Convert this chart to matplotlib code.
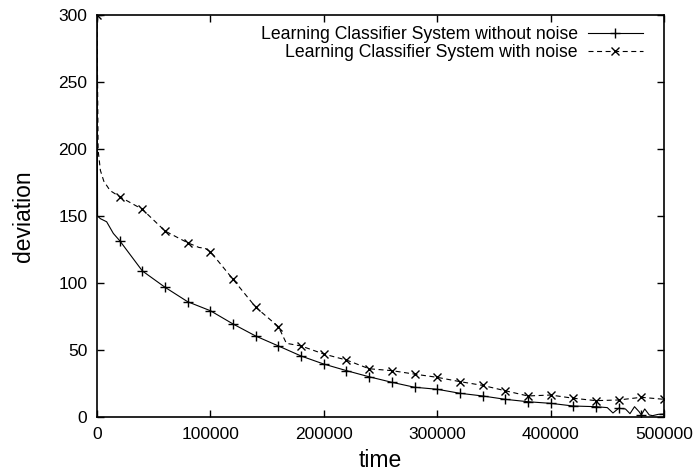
import matplotlib
matplotlib.use('Agg')
import matplotlib.pyplot as plt

plt.rcParams['font.family'] = ['Liberation Sans', 'DejaVu Sans']

# Learning Classifier System without noise (solid, '+' every 20000)
t_clean = [0, 500, 3000, 8500, 14400, 20000, 40000, 60000, 80000, 100000,
           120000, 140000, 160000, 180000, 200000, 220000, 240000, 260000,
           280000, 300000, 320000, 340000, 360000, 380000, 400000, 420000,
           440000, 450000, 455000, 460000, 466000, 470000, 474000, 478000,
           480000, 483000, 487000, 490000, 495000, 500000]
dev_clean = [300, 150, 148, 145.7, 137, 131.6, 109, 96.8, 86, 79.3,
             69.4, 60.4, 53, 45.5, 39.5, 34.6, 30, 25.9,
             22.2, 20.7, 17.7, 15.7, 13.2, 11.4, 10.2, 8.2,
             7.7, 7.0, 3.0, 6.5, 6.0, 2.5, 7.7, 4.0,
             1.5, 6.0, 1.5, 1.0, 2.0, 2.2]
clean_marks = [0] + list(range(5, 27)) + [29, 34, 39]

# Learning Classifier System with noise (dashed, 'x' every 20000)
t_noise = [0, 1000, 3000, 6000, 11500, 20000, 40000, 60000, 80000, 90000,
           95000, 100000, 120000, 140000, 160000, 167000, 180000, 200000,
           220000, 240000, 260000, 280000, 300000, 320000, 340000, 360000,
           380000, 400000, 420000, 440000, 460000, 480000, 500000]
dev_noise = [300, 199, 184, 176, 169, 164.4, 155, 138.8, 130, 126.5,
             126, 123.4, 102.7, 81.9, 67.4, 55, 53, 47,
             42.5, 36, 34.6, 32, 29.6, 26.4, 23.6, 19.6,
             15.7, 16.4, 14, 12.2, 12.7, 14.7, 13.2]
noise_marks = [0] + list(range(5, 9)) + list(range(11, 15)) + list(range(16, 33))

fig = plt.figure(figsize=(6.95, 4.74), dpi=100)
ax = fig.add_axes([97 / 695, 57 / 474, 567 / 695, 402 / 474])

ax.plot(t_clean, dev_clean, color='black', linewidth=0.8, marker='+',
        markersize=7, markeredgewidth=1.0, markevery=clean_marks,
        label='Learning Classifier System without noise')
ax.plot(t_noise, dev_noise, color='black', linewidth=0.8, marker='x',
        markersize=6, markeredgewidth=1.0, markevery=noise_marks,
        dashes=(4.5, 3.2), label='Learning Classifier System with noise')

ax.set_xlim(0, 500000)
ax.set_ylim(0, 300)
ax.set_xticks([0, 100000, 200000, 300000, 400000, 500000])
ax.set_yticks([0, 50, 100, 150, 200, 250, 300])
ax.tick_params(direction='in', length=5, width=1, top=True, right=True,
               labelsize=12.5, pad=7)
for sp in ax.spines.values():
    sp.set_linewidth(1.2)

ax.set_xlabel('time', fontsize=16.5, labelpad=5)
ax.set_ylabel('deviation', fontsize=16.5, labelpad=17)

ax.legend(loc='upper right', bbox_to_anchor=(1.0, 1.025), frameon=False,
          markerfirst=False, fontsize=12.7,
          handlelength=3.1, handletextpad=0.6, labelspacing=0.05,
          borderaxespad=0.9, borderpad=0.3)

fig.savefig('out.png', dpi=100)
